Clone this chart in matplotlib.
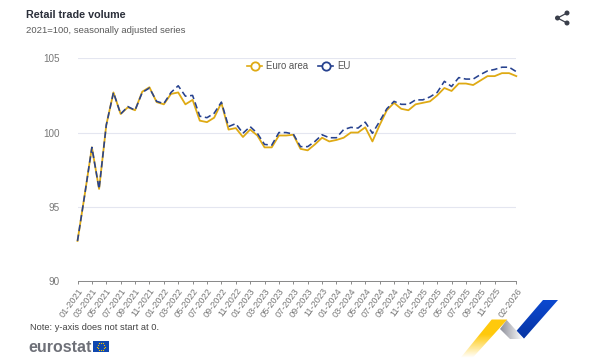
# -*- coding: utf-8 -*-
import numpy as np
import matplotlib
matplotlib.use("Agg")
import matplotlib.pyplot as plt
from matplotlib.lines import Line2D
from matplotlib.patches import Polygon, Rectangle, Circle

plt.rcParams['font.family'] = ['Liberation Sans', 'DejaVu Sans']

#----------------------------DATA-----------------------------------#
euro_area = [92.7, 95.8, 99.0, 96.2, 100.5, 102.7, 101.25, 101.7, 101.5, 102.75,
             103.05, 102.05, 101.9, 102.6, 102.7, 101.9, 102.2, 100.8, 100.7, 101.0,
             102.0, 100.2, 100.3, 99.7, 100.2, 99.8, 99.0, 99.0, 99.8, 99.8,
             99.85, 98.9, 98.8, 99.2, 99.65, 99.4, 99.5, 99.65, 100.0, 100.0,
             100.35, 99.4, 100.5, 101.5, 102.0, 101.6, 101.5, 101.9, 102.0, 102.1,
             102.5, 103.0, 102.8, 103.3, 103.3, 103.2, 103.5, 103.8, 103.8, 104.0,
             104.0, 103.8]
eu = [92.7, 95.8, 99.0, 96.2, 100.5, 102.7, 101.25, 101.75, 101.5, 102.7,
      103.0, 102.1, 101.95, 102.7, 103.15, 102.45, 102.5, 101.1, 101.0, 101.3,
      102.05, 100.4, 100.6, 99.95, 100.4, 99.95, 99.2, 99.15, 100.0, 100.0,
      99.9, 99.05, 99.05, 99.4, 99.85, 99.65, 99.65, 100.2, 100.35, 100.3,
      100.7, 99.95, 100.75, 101.6, 102.1, 101.9, 101.9, 102.2, 102.2, 102.4,
      102.7, 103.45, 103.1, 103.7, 103.6, 103.6, 103.9, 104.15, 104.25, 104.4,
      104.4, 104.1]
tick_pos = list(range(0, 60, 2)) + [61]
tick_labels = ['01-2021', '03-2021', '05-2021', '07-2021', '09-2021', '11-2021',
               '01-2022', '03-2022', '05-2022', '07-2022', '09-2022', '11-2022',
               '01-2023', '03-2023', '05-2023', '07-2023', '09-2023', '11-2023',
               '01-2024', '03-2024', '05-2024', '07-2024', '09-2024', '11-2024',
               '01-2025', '03-2025', '05-2025', '07-2025', '09-2025', '11-2025',
               '02-2026']
y_ticks = [90, 95, 100, 105]
#----------------------------DATA-----------------------------------#

YELLOW = '#DFAA14'
BLUE = '#27428F'
GREY = '#777777'

fig = plt.figure(figsize=(6, 3.6), dpi=100)

# overlay in pixel coordinates for the page furniture
page = fig.add_axes([0, 0, 1, 1])
page.set_xlim(0, 600)
page.set_ylim(360, 0)
page.axis('off')

# chart
ax = fig.add_axes([77.5 / 600, (360 - 281) / 360, (516.3 - 77.5) / 600, (281 - 58.3) / 360])
x = np.arange(len(euro_area))
ax.plot(x, euro_area, color=YELLOW, lw=1.3, solid_joinstyle='round', clip_on=False)
ax.plot(x, eu, color=BLUE, lw=1.15, dashes=(4, 2.2), clip_on=False)
ax.set_xlim(0, 61)
ax.set_ylim(90, 105)
ax.patch.set_alpha(0)
ax.set_yticks(y_ticks)
ax.set_xticks(tick_pos)
ax.set_xticklabels(tick_labels, rotation=54, ha='right', va='top', rotation_mode='anchor',
                   fontsize=6.6, color=GREY)
ax.tick_params(axis='x', length=2.5, width=0.6, color='#777777', pad=1.5)
ax.tick_params(axis='y', length=0, labelsize=7.1, labelcolor=GREY, pad=13)
ax.grid(axis='y', color='#E4E6F0', lw=0.8)
ax.set_axisbelow(True)
for s in ['top', 'right', 'left']:
    ax.spines[s].set_visible(False)
ax.spines['bottom'].set_color('#888888')
ax.spines['bottom'].set_linewidth(0.7)

handles = [Line2D([], [], color=YELLOW, lw=1.2, marker='o', ms=6, mfc='white', mew=1.3),
           Line2D([], [], color=BLUE, lw=1.2, marker='o', ms=6, mfc='white', mew=1.3)]
ax.legend(handles, ['Euro area', 'EU'], ncol=2, frameon=False, fontsize=6.9, labelcolor='#555555',
          loc='center', bbox_to_anchor=(0.5045, 0.966), handlelength=1.6, handletextpad=0.4,
          columnspacing=1.0, borderpad=0)

# texts
page.text(26, 14.5, 'Retail trade volume', fontsize=7.75, fontweight='bold', color='#2B2F3A', va='center')
page.text(26, 30.5, '2021=100, seasonally adjusted series', fontsize=6.8, color='#5A5A5A', va='center')
page.text(29.5, 327, 'Note: y-axis does not start at 0.', fontsize=6.7, color='#444444', va='center')
page.text(28.5, 347, 'eurostat', fontsize=11.5, fontweight='bold', color='#6E7078', va='center')

# flag
page.add_patch(Rectangle((93, 341), 16, 11, color='#0F47AF', lw=0))
t = np.arange(12) * np.pi / 6
page.scatter(101 + 3.6 * np.cos(t), 346.5 + 3.6 * np.sin(t), s=0.8, color='#F4C500', lw=0)

# share icon
for cx, cy in [(567, 13), (557.5, 18), (567, 23)]:
    page.add_patch(Circle((cx, cy), 2.5, color='#3A3F4B', lw=0))
page.plot([567, 557.5, 567], [13, 18, 23], color='#3A3F4B', lw=0.9)

# ribbon logo
def ribbon(points, rgb, a0, a1, vertical=True, y0=0, y1=1, x0=0, x1=1):
    n = 64
    grad = np.ones((n, n, 4))
    grad[..., :3] = rgb
    ramp = np.clip(np.linspace(a0, a1, n), 0, 1)
    grad[..., 3] = ramp[:, None] if vertical else ramp[None, :]
    im = page.imshow(grad, extent=(x0, x1, y1, y0), zorder=1, aspect='auto', interpolation='bilinear')
    poly = Polygon(points, closed=True, transform=page.transData, fc='none', ec='none')
    page.add_patch(poly)
    im.set_clip_path(poly)

ribbon([(491.7, 319.5), (507.3, 319.5), (472, 358.5), (460, 358.5)], (1.0, 0.79, 0.05), 1.7, 0,
       y0=319, y1=358.5, x0=455, x1=510)
ribbon([(506.7, 320), (500, 329), (510, 339), (524, 339)], (0.55, 0.56, 0.6), 1, 0.05,
       vertical=False, y0=318, y1=340, x0=500, x1=522)
ribbon([(543, 300), (558, 300), (524, 338.5), (516.7, 330.7)], (0.05, 0.29, 0.82), 1, 1,
       y0=299, y1=340, x0=515, x1=560)
ribbon([(543, 300), (558, 300), (524, 338.5), (516.7, 330.7)], (0.0, 0.08, 0.35), 0, 0.4,
       y0=299, y1=340, x0=515, x1=560)

page.set_xlim(0, 600)
page.set_ylim(360, 0)

fig.savefig('out.png', dpi=100)
